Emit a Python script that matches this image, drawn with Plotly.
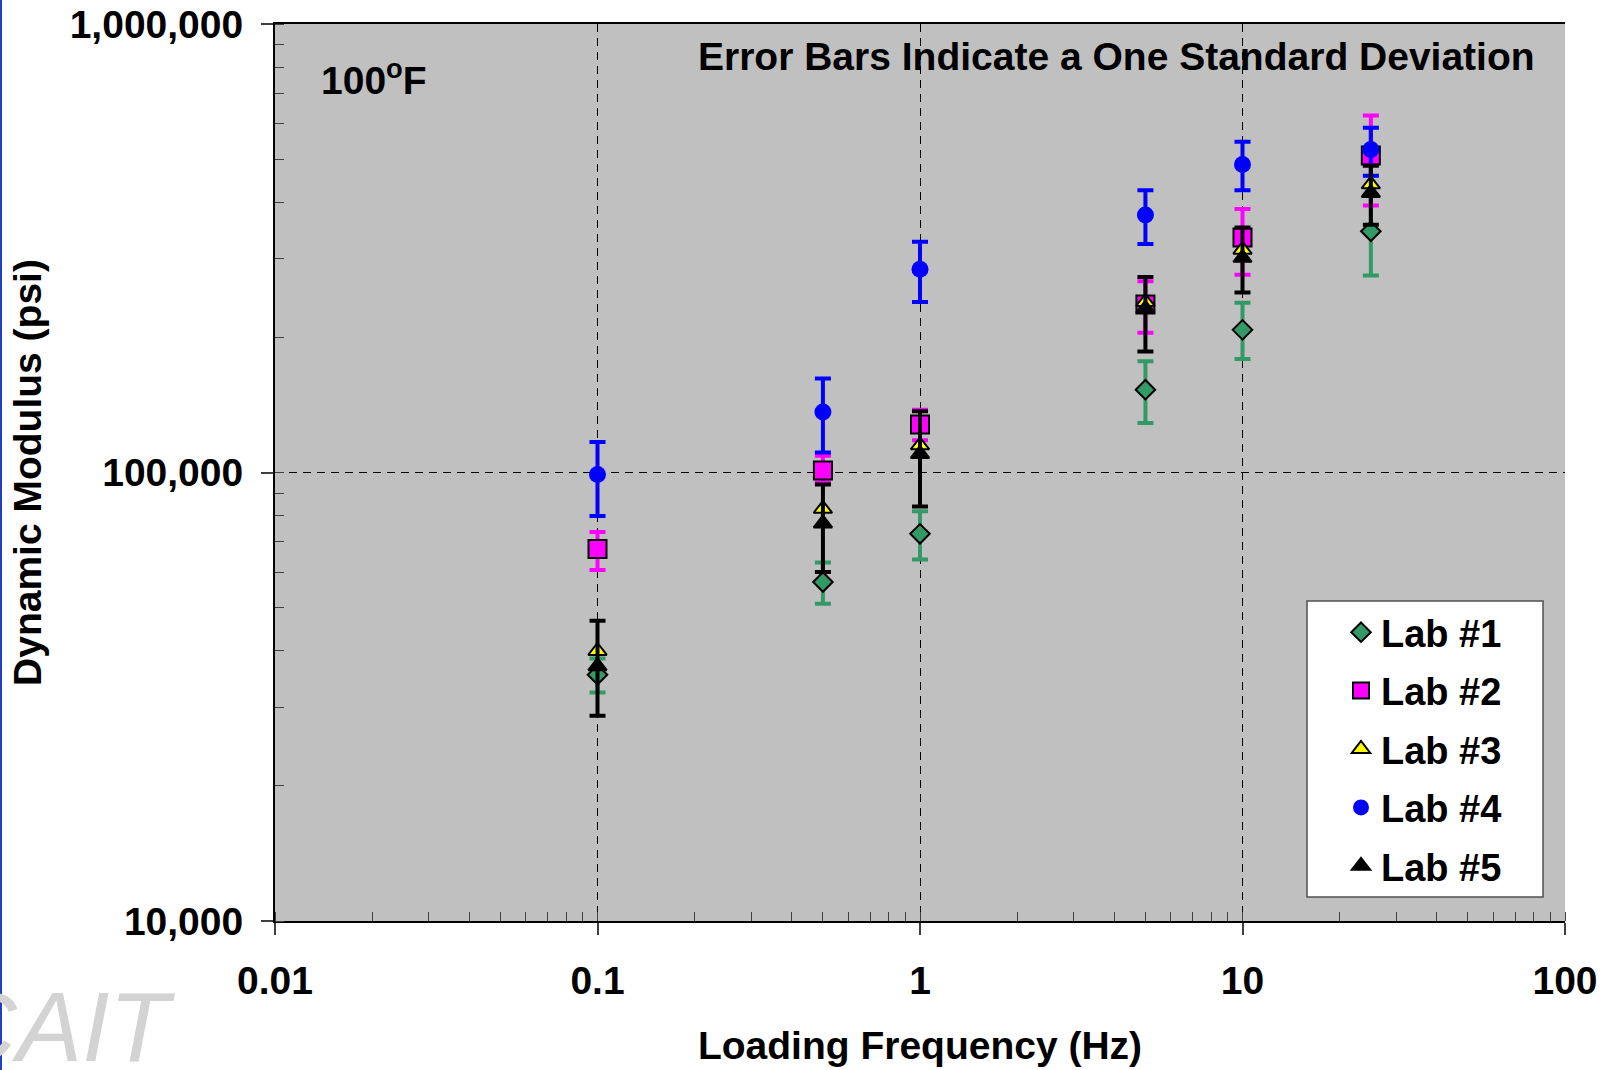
import plotly.graph_objects as go

# ---------------- data ----------------
freq = [0.1, 0.5, 1, 5, 10, 25]

lab1 = [35400, 57000, 73000, 153000, 208000, 345000]
lab1_plus = [3100, 6000, 9000, 24000, 31000, 70000]
lab1_minus = [3100, 6000, 9000, 24000, 29000, 70000]

lab2 = [67500, 101000, 128000, 237000, 334000, 509000]
lab2_plus = [6200, 8000, 10000, 30000, 53000, 116000]
lab2_minus = [6900, 6000, 10000, 32000, 58000, 115000]

lab3 = [40000, 83000, 115000, 240000, 314000, 439000]

lab4 = [99000, 136500, 284000, 375000, 486000, 525000]
lab4_plus = [18000, 25500, 43000, 51000, 60000, 62000]
lab4_minus = [19000, 25700, 44000, 52000, 60000, 66000]

lab5 = [37000, 77000, 110000, 232000, 301000, 420000]
lab5_plus = [9700, 17000, 27000, 41000, 51000, 63000]
lab5_minus = [8300, 17000, 26000, 46000, 49000, 63000]

x_tickvals = [0.01, 0.1, 1, 10, 100]
x_ticktext = ["0.01", "0.1", "1", "10", "100"]
y_tickvals = [10000, 100000, 1000000]
y_ticktext = ["10,000", "100,000", "1,000,000"]

FONT = "Liberation Sans, Arial, sans-serif"
FS = 39

fig = go.Figure()


def add(name, y, color, symbol, size, line_color, plus=None, minus=None, group=""):
    err = None
    if plus is not None:
        err = dict(type="data", symmetric=False, array=plus, arrayminus=minus,
                   color=color, thickness=4, width=8)
    fig.add_trace(go.Scatter(
        x=freq, y=y, mode="markers", name=name, legendgroup=group,
        marker=dict(symbol=symbol, size=size, color=color,
                    line=dict(color=line_color, width=2 if line_color != color else 0)),
        error_y=err,
    ))


add("Lab #1", lab1, "#339966", "diamond", 15, "black", lab1_plus, lab1_minus, "g1")
add("Lab #2", lab2, "#FF00FF", "square", 18, "black", lab2_plus, lab2_minus, "g2")
add("Lab #3", lab3, "#FFFF00", "triangle-up", 16, "black", None, None, "g3")
add("Lab #4", lab4, "#0000FF", "circle", 17, "#0000FF", lab4_plus, lab4_minus, "g4")
add("Lab #5", lab5, "#000000", "triangle-up", 16, "black", lab5_plus, lab5_minus, "g5")

L, R, T, B = 275, 54, 24, 149
W, H = 1619, 1070
pw, ph = W - L - R, H - T - B


def px_x(p):
    return (p - L) / pw


def px_y(p):
    return (H - B - p) / ph


axis_common = dict(
    showline=True, linecolor="black", linewidth=2,
    ticks="outside", ticklen=12, tickwidth=1.5, tickcolor="#404040",
    showgrid=True, gridcolor="black", gridwidth=1, griddash="8px,6px",
    zeroline=False, automargin=False,
    tickfont=dict(family=FONT, size=FS, color="black", weight="bold"),
    minor=dict(ticks="inside", ticklen=9, tickwidth=1, tickcolor="#404040",
               dtick="D1", showgrid=False),
)

fig.update_xaxes(
    type="log", range=[-2, 2], tickmode="array",
    tickvals=x_tickvals, ticktext=x_ticktext,
    mirror=True, ticklabelstandoff=12,
    title=dict(text="Loading Frequency (Hz)", standoff=31,
               font=dict(family=FONT, size=FS, color="black", weight="bold")),
    **axis_common,
)
fig.update_yaxes(
    type="log", range=[4, 6], tickmode="array",
    tickvals=y_tickvals, ticktext=y_ticktext,
    ticklabelstandoff=10,
    title=dict(text="Dynamic Modulus (psi)", standoff=16,
               font=dict(family=FONT, size=FS, color="black", weight="bold")),
    **axis_common,
)

fig.update_layout(
    width=W, height=H,
    margin=dict(l=L, r=R, t=T, b=B, pad=0),
    paper_bgcolor="white", plot_bgcolor="#C0C0C0",
    font=dict(family=FONT, color="black"),
    showlegend=True,
    legend=dict(
        x=px_x(1307), y=px_y(601), xanchor="left", yanchor="top",
        bgcolor="rgba(0,0,0,0)", borderwidth=0,
        font=dict(family=FONT, size=38, color="black", weight="bold"),
        tracegroupgap=6, indentation=34, itemwidth=30,
    ),
    shapes=[
        dict(type="rect", xref="paper", yref="paper",
             x0=px_x(1307), x1=px_x(1543), y0=px_y(897), y1=px_y(601),
             fillcolor="white", line=dict(color="#505050", width=1.5), layer="above"),
        dict(type="line", xref="paper", yref="paper",
             x0=px_x(1), x1=px_x(1), y0=px_y(H), y1=px_y(0),
             line=dict(color="#1f3fbf", width=2)),
    ],
    annotations=[
        dict(text="100<sup>o</sup>F", xref="paper", yref="paper",
             x=px_x(319), y=px_y(77), xanchor="left", yanchor="middle",
             showarrow=False, font=dict(family=FONT, size=FS, color="black", weight="bold")),
        dict(text="Error Bars Indicate a One Standard Deviation", xref="paper", yref="paper",
             x=px_x(1537), y=px_y(56), xanchor="right", yanchor="middle",
             showarrow=False, font=dict(family=FONT, size=FS, color="black", weight="bold")),
        dict(text="<i>CAIT</i>", xref="paper", yref="paper",
             x=px_x(177), y=px_y(1027), xanchor="right", yanchor="middle",
             showarrow=False, font=dict(family=FONT, size=98, color="#D3D3D3")),
    ],
)

fig.write_html("out.html", config={"displayModeBar": False},
               post_script="document.body.style.margin='0';document.body.style.overflow='hidden';")
